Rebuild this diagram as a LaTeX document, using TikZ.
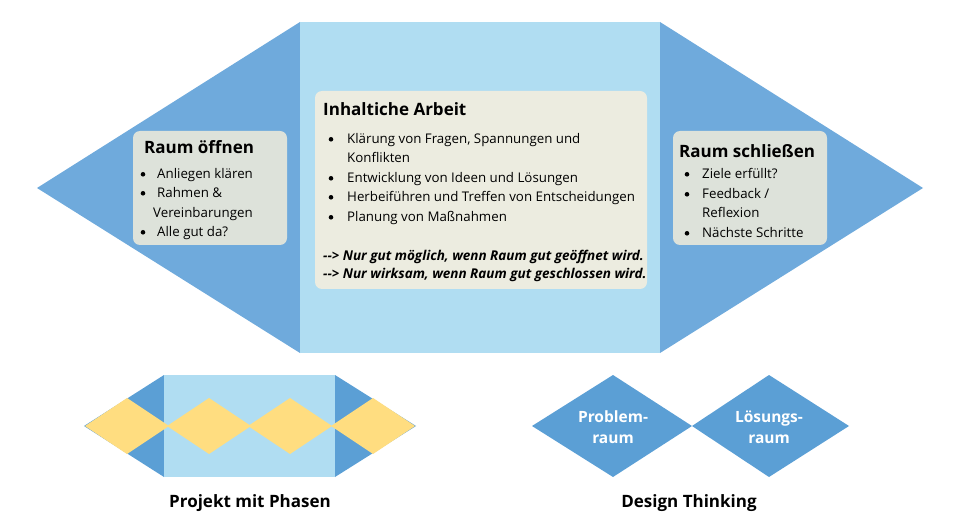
\documentclass[tikz,border=0pt]{standalone}
\usepackage{fontspec}
\setmainfont{Open Sans}
\definecolor{dblue}{RGB}{111,170,220}
\definecolor{lblue}{RGB}{176,221,242}
\definecolor{sbox}{RGB}{221,226,218}
\definecolor{cbox}{RGB}{236,236,224}
\definecolor{dblueb}{RGB}{91,159,213}
\definecolor{yell}{RGB}{255,221,128}
\begin{document}
\begin{tikzpicture}[x=1pt,y=-1pt,
  ttl/.style={anchor=base west,inner sep=0,font=\bfseries\fontsize{17}{20}\selectfont},
  bdy/.style={anchor=base west,inner sep=0,font=\fontsize{13.3}{16}\selectfont},
  emph/.style={anchor=base west,inner sep=0,font=\bfseries\itshape\fontsize{13.5}{16}\selectfont},
  captxt/.style={anchor=base,inner sep=0,font=\bfseries\fontsize{17}{20}\selectfont},
  dtext/.style={align=center,inner sep=0,text=white,font=\bfseries\fontsize{15.5}{20.5}\selectfont},
  bul/.style={circle,fill=black,inner sep=0,minimum size=4.6pt},
  boxfill/.style={rounded corners=7}]
\useasboundingbox (0,0) rectangle (961,529);
% big shape
\fill[dblue] (300,22) -- (37,188) -- (300,353) -- cycle;
\fill[dblue] (660,22) -- (923,188) -- (660,353) -- cycle;
\fill[lblue] (300,22) rectangle (660,353);
% boxes
\fill[sbox,boxfill] (133,131) rectangle (287,245);
\fill[cbox,boxfill] (315,91) rectangle (647,289);
\fill[sbox,boxfill] (673,131) rectangle (827,245);
% left box text
\node[ttl] (lt) at (144,154) {Raum öffnen};
\node[bul] (lb1) at (143,174.3) {};
\node[bdy] (l1) at (157,179) {Anliegen klären};
\node[bul] (lb2) at (143,193.3) {};
\node[bdy] (l2) at (157,198) {Rahmen \&};
\node[bdy] (l2b) at (153,218) {Vereinbarungen};
\node[bul] (lb3) at (143,232.3) {};
\node[bdy] (l3) at (157,237) {Alle gut da?};
% center text
\node[ttl] (ct) at (323,116) {Inhaltiche Arbeit};
\node[bul] (cb1) at (331,139.3) {};
\node[bdy] (c1) at (347,144) {Klärung von Fragen, Spannungen und};
\node[bdy] (c1b) at (347,163) {Konflikten};
\node[bul] (cb2) at (331,178.3) {};
\node[bdy] (c2) at (347,183) {Entwicklung von Ideen und Lösungen};
\node[bul] (cb3) at (331,197.3) {};
\node[bdy] (c3) at (347,202) {Herbeiführen und Treffen von Entscheidungen};
\node[bul] (cb4) at (331,217.3) {};
\node[bdy] (c4) at (347,222) {Planung von Maßnahmen};
\node[emph] (e1) at (323,261) {{-}{-}> Nur gut möglich, wenn Raum gut geöffnet wird.};
\node[emph] (e2) at (323,279) {{-}{-}> Nur wirksam, wenn Raum gut geschlossen wird.};
% right box text
\node[ttl] (rt) at (679,158) {Raum schließen};
\node[bul] (rb1) at (687,174.3) {};
\node[bdy] (r1) at (702,179) {Ziele erfüllt?};
\node[bul] (rb2) at (687,194.3) {};
\node[bdy] (r2) at (702,199) {Feedback /};
\node[bdy] (r2b) at (702,218) {Reflexion};
\node[bul] (rb3) at (687,233.3) {};
\node[bdy] (r3) at (702,238) {Nächste Schritte};
% Projekt mit Phasen
\fill[dblueb] (164,375) -- (84,426) -- (164,477) -- cycle;
\fill[dblueb] (335,375) -- (416,426) -- (335,477) -- cycle;
\fill[lblue] (164,375) rectangle (335,477);
\foreach \cx in {127,209,290,373}{
  \fill[yell] (\cx-42,426) -- (\cx,398) -- (\cx+42,426) -- (\cx,454) -- cycle;
}
\node[captxt] (pp) at (250,507) {Projekt mit Phasen};
% Design Thinking
\fill[dblueb] (532,426) -- (613,375) -- (692,426) -- (613,477) -- cycle;
\fill[dblueb] (692,426) -- (769,375) -- (849,426) -- (769,477) -- cycle;
\node[dtext] (d1) at (613,427) {Problem-\\raum};
\node[dtext] (d2) at (769,427) {Lösungs-\\raum};
\node[captxt] (dt) at (689,507) {Design Thinking};
\end{tikzpicture}
\end{document}
